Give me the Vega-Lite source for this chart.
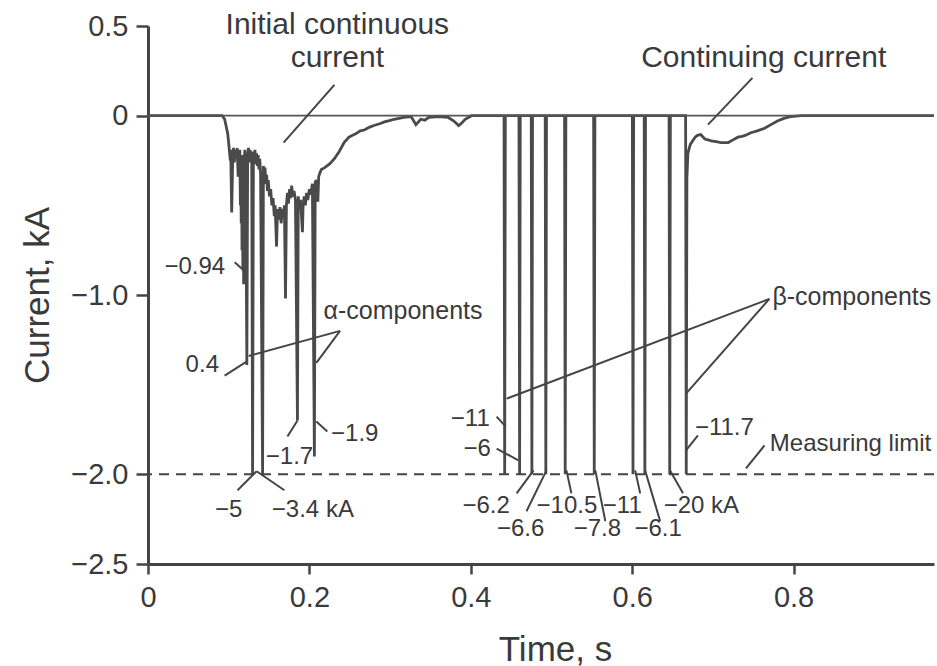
{
  "$schema": "https://vega.github.io/schema/vega-lite/v6.json",
  "width": 786,
  "height": 538,
  "autosize": {"type": "none"},
  "padding": {"left": 148, "top": 26, "right": 3, "bottom": 102},
  "background": "white",
  "config": {
    "view": {"stroke": null},
    "font": "Liberation Sans",
    "axis": {
      "grid": false,
      "domainColor": "#444444",
      "domainWidth": 3,
      "tickColor": "#444444",
      "tickWidth": 2.5,
      "labelFont": "Liberation Sans",
      "labelFontSize": 29,
      "labelColor": "#3a3a3a",
      "labelOverlap": false,
      "labelFlush": false,
      "titleFont": "Liberation Sans",
      "titleFontSize": 35,
      "titleFontWeight": "normal",
      "titleColor": "#3a3a3a"
    }
  },
  "datasets": {
    "levels": [
      {"I": 0, "kind": "zero"},
      {"I": -2, "kind": "limit"}
    ],
    "trace": [
      {"t": 0, "I": 0}, {"t": 0.092, "I": 0}, {"t": 0.095, "I": -0.02}, {"t": 0.0988, "I": -0.1},
      {"t": 0.101, "I": -0.2}, {"t": 0.102, "I": -0.25}, {"t": 0.1025, "I": -0.19}, {"t": 0.1037, "I": -0.54},
      {"t": 0.105, "I": -0.23}, {"t": 0.106, "I": -0.18}, {"t": 0.107, "I": -0.26}, {"t": 0.108, "I": -0.19},
      {"t": 0.109, "I": -0.24}, {"t": 0.1105, "I": -0.18}, {"t": 0.1117, "I": -0.34}, {"t": 0.1125, "I": -0.2},
      {"t": 0.1132, "I": -0.27}, {"t": 0.1138, "I": -0.19}, {"t": 0.1145, "I": -0.5}, {"t": 0.115, "I": -0.22},
      {"t": 0.1155, "I": -0.6}, {"t": 0.116, "I": -0.25}, {"t": 0.1165, "I": -0.75}, {"t": 0.117, "I": -0.22},
      {"t": 0.1175, "I": -0.85}, {"t": 0.118, "I": -0.3}, {"t": 0.1185, "I": -0.94}, {"t": 0.119, "I": -0.28},
      {"t": 0.12, "I": -0.19}, {"t": 0.121, "I": -0.26}, {"t": 0.1225, "I": -1.39}, {"t": 0.1235, "I": -0.22},
      {"t": 0.1245, "I": -0.18}, {"t": 0.1255, "I": -0.26}, {"t": 0.1265, "I": -0.19}, {"t": 0.1275, "I": -0.25},
      {"t": 0.1285, "I": -0.2}, {"t": 0.1296, "I": -2.0}, {"t": 0.1306, "I": -0.2}, {"t": 0.1315, "I": -0.26},
      {"t": 0.1325, "I": -0.19}, {"t": 0.1335, "I": -0.27}, {"t": 0.1345, "I": -0.21}, {"t": 0.1355, "I": -0.28},
      {"t": 0.1365, "I": -0.22}, {"t": 0.1375, "I": -0.3}, {"t": 0.1385, "I": -0.24}, {"t": 0.1395, "I": -0.32},
      {"t": 0.142, "I": -2.0}, {"t": 0.143, "I": -0.28}, {"t": 0.144, "I": -0.34}, {"t": 0.145, "I": -0.29},
      {"t": 0.146, "I": -0.38}, {"t": 0.147, "I": -0.33}, {"t": 0.148, "I": -0.42}, {"t": 0.149, "I": -0.36},
      {"t": 0.1505, "I": -0.45}, {"t": 0.152, "I": -0.41}, {"t": 0.1535, "I": -0.5}, {"t": 0.155, "I": -0.46},
      {"t": 0.1565, "I": -0.56}, {"t": 0.1575, "I": -0.5}, {"t": 0.1593, "I": -0.73}, {"t": 0.1605, "I": -0.52},
      {"t": 0.162, "I": -0.58}, {"t": 0.1635, "I": -0.51}, {"t": 0.165, "I": -0.6}, {"t": 0.1665, "I": -0.52},
      {"t": 0.168, "I": -0.57}, {"t": 0.169, "I": -0.5}, {"t": 0.1704, "I": -1.02}, {"t": 0.1715, "I": -0.5},
      {"t": 0.1728, "I": -0.43}, {"t": 0.174, "I": -0.49}, {"t": 0.1755, "I": -0.41}, {"t": 0.177, "I": -0.46},
      {"t": 0.178, "I": -0.39}, {"t": 0.1795, "I": -0.45}, {"t": 0.181, "I": -0.42}, {"t": 0.1827, "I": -0.47},
      {"t": 0.1852, "I": -1.7}, {"t": 0.1862, "I": -0.45}, {"t": 0.1875, "I": -0.52}, {"t": 0.189, "I": -0.47},
      {"t": 0.1914, "I": -0.65}, {"t": 0.1922, "I": -0.5}, {"t": 0.1935, "I": -0.45}, {"t": 0.195, "I": -0.5},
      {"t": 0.1965, "I": -0.43}, {"t": 0.198, "I": -0.47}, {"t": 0.2, "I": -0.41}, {"t": 0.2015, "I": -0.44},
      {"t": 0.2037, "I": -0.38}, {"t": 0.2062, "I": -1.9}, {"t": 0.2072, "I": -0.37}, {"t": 0.209, "I": -0.36},
      {"t": 0.2105, "I": -0.48}, {"t": 0.2115, "I": -0.34}, {"t": 0.213, "I": -0.32}, {"t": 0.2148, "I": -0.3},
      {"t": 0.219, "I": -0.29}, {"t": 0.2247, "I": -0.27}, {"t": 0.231, "I": -0.24},
      {"t": 0.237, "I": -0.2}, {"t": 0.243, "I": -0.15}, {"t": 0.249, "I": -0.12}, {"t": 0.253, "I": -0.11},
      {"t": 0.258, "I": -0.1}, {"t": 0.263, "I": -0.085}, {"t": 0.268, "I": -0.08}, {"t": 0.274, "I": -0.065},
      {"t": 0.28, "I": -0.055}, {"t": 0.287, "I": -0.045}, {"t": 0.293, "I": -0.035}, {"t": 0.299, "I": -0.028},
      {"t": 0.305, "I": -0.02}, {"t": 0.311, "I": -0.015}, {"t": 0.317, "I": -0.01}, {"t": 0.326, "I": -0.005},
      {"t": 0.332, "I": -0.05}, {"t": 0.338, "I": -0.02}, {"t": 0.343, "I": -0.025}, {"t": 0.348, "I": -0.01},
      {"t": 0.36, "I": -0.005}, {"t": 0.372, "I": -0.01}, {"t": 0.379, "I": -0.03}, {"t": 0.385, "I": -0.055},
      {"t": 0.389, "I": -0.04}, {"t": 0.393, "I": -0.02}, {"t": 0.401, "I": 0},
      {"t": 0.4412, "I": 0}, {"t": 0.442, "I": -2.0}, {"t": 0.4428, "I": 0},
      {"t": 0.4597, "I": 0}, {"t": 0.4605, "I": -2.0}, {"t": 0.4613, "I": 0},
      {"t": 0.4749, "I": 0}, {"t": 0.4757, "I": -2.0}, {"t": 0.4765, "I": 0},
      {"t": 0.4922, "I": 0}, {"t": 0.493, "I": -2.0}, {"t": 0.4938, "I": 0},
      {"t": 0.5162, "I": 0}, {"t": 0.517, "I": -2.0}, {"t": 0.5178, "I": 0},
      {"t": 0.5522, "I": 0}, {"t": 0.553, "I": -2.0}, {"t": 0.5538, "I": 0},
      {"t": 0.6002, "I": 0}, {"t": 0.601, "I": -2.0}, {"t": 0.6018, "I": 0},
      {"t": 0.6149, "I": 0}, {"t": 0.6157, "I": -2.0}, {"t": 0.6165, "I": 0},
      {"t": 0.6457, "I": 0}, {"t": 0.6465, "I": -2.0}, {"t": 0.6473, "I": 0},
      {"t": 0.6662, "I": 0}, {"t": 0.667, "I": -2.0}, {"t": 0.6678, "I": -0.35},
      {"t": 0.669, "I": -0.21}, {"t": 0.672, "I": -0.16}, {"t": 0.675, "I": -0.14}, {"t": 0.678, "I": -0.12},
      {"t": 0.681, "I": -0.11}, {"t": 0.685, "I": -0.105}, {"t": 0.69, "I": -0.13}, {"t": 0.694, "I": -0.135},
      {"t": 0.698, "I": -0.14}, {"t": 0.704, "I": -0.145}, {"t": 0.71, "I": -0.15}, {"t": 0.719, "I": -0.15},
      {"t": 0.725, "I": -0.135}, {"t": 0.731, "I": -0.12}, {"t": 0.736, "I": -0.115}, {"t": 0.74, "I": -0.11},
      {"t": 0.747, "I": -0.095}, {"t": 0.755, "I": -0.085}, {"t": 0.764, "I": -0.07}, {"t": 0.772, "I": -0.05},
      {"t": 0.78, "I": -0.03}, {"t": 0.788, "I": -0.015}, {"t": 0.796, "I": -0.005}, {"t": 0.81, "I": 0},
      {"t": 0.974, "I": 0}
    ],
    "pointers": [
      {"t1": 0.231, "i1": 0.172, "t2": 0.168, "i2": -0.15},
      {"t1": 0.749, "i1": 0.211, "t2": 0.694, "i2": -0.05},
      {"t1": 0.238, "i1": -1.2, "t2": 0.1247, "i2": -1.34},
      {"t1": 0.238, "i1": -1.2, "t2": 0.2086, "i2": -1.378},
      {"t1": 0.77, "i1": -1.022, "t2": 0.4444, "i2": -1.578},
      {"t1": 0.77, "i1": -1.022, "t2": 0.6667, "i2": -1.55},
      {"t1": 0.764, "i1": -1.839, "t2": 0.741, "i2": -1.967},
      {"t1": 0.1074, "i1": -0.817, "t2": 0.1198, "i2": -0.867},
      {"t1": 0.095, "i1": -1.45, "t2": 0.1222, "i2": -1.372},
      {"t1": 0.1728, "i1": -1.789, "t2": 0.1852, "i2": -1.7},
      {"t1": 0.2086, "i1": -1.706, "t2": 0.2222, "i2": -1.761},
      {"t1": 0.1346, "i1": -1.983, "t2": 0.111, "i2": -2.089},
      {"t1": 0.1346, "i1": -1.983, "t2": 0.169, "i2": -2.089},
      {"t1": 0.432, "i1": -1.678, "t2": 0.443, "i2": -1.733},
      {"t1": 0.432, "i1": -1.856, "t2": 0.459, "i2": -1.922},
      {"t1": 0.4778, "i1": -1.978, "t2": 0.4568, "i2": -2.106},
      {"t1": 0.4938, "i1": -1.978, "t2": 0.469, "i2": -2.206},
      {"t1": 0.5185, "i1": -1.978, "t2": 0.5247, "i2": -2.106},
      {"t1": 0.5543, "i1": -1.978, "t2": 0.5667, "i2": -2.261},
      {"t1": 0.6037, "i1": -1.978, "t2": 0.6099, "i2": -2.106},
      {"t1": 0.616, "i1": -1.978, "t2": 0.6346, "i2": -2.261},
      {"t1": 0.6469, "i1": -1.978, "t2": 0.663, "i2": -2.106},
      {"t1": 0.6667, "i1": -1.867, "t2": 0.6815, "i2": -1.783}
    ],
    "labels": [
      {"t": 0.2346, "I": 0.503, "text": "Initial continuous", "kind": "title"},
      {"t": 0.2346, "I": 0.322, "text": "current", "kind": "title"},
      {"t": 0.763, "I": 0.322, "text": "Continuing current", "kind": "title"},
      {"t": 0.316, "I": -1.092, "text": "α-components", "kind": "group"},
      {"t": 0.8722, "I": -1.011, "text": "β-components", "kind": "group"},
      {"t": 0.8706, "I": -1.83, "text": "Measuring limit", "kind": "value"},
      {"t": 0.058, "I": -0.844, "text": "−0.94", "kind": "value"},
      {"t": 0.0673, "I": -1.389, "text": "0.4", "kind": "value"},
      {"t": 0.1753, "I": -1.906, "text": "−1.7", "kind": "value"},
      {"t": 0.2562, "I": -1.775, "text": "−1.9", "kind": "value"},
      {"t": 0.1, "I": -2.197, "text": "−5", "kind": "value"},
      {"t": 0.2043, "I": -2.197, "text": "−3.4 kA", "kind": "value"},
      {"t": 0.3994, "I": -1.689, "text": "−11", "kind": "value"},
      {"t": 0.408, "I": -1.856, "text": "−6", "kind": "value"},
      {"t": 0.419, "I": -2.178, "text": "−6.2", "kind": "value"},
      {"t": 0.5191, "I": -2.178, "text": "−10.5", "kind": "value"},
      {"t": 0.5877, "I": -2.178, "text": "−11", "kind": "value"},
      {"t": 0.6858, "I": -2.178, "text": "−20 kA", "kind": "value"},
      {"t": 0.4617, "I": -2.306, "text": "−6.6", "kind": "value"},
      {"t": 0.5568, "I": -2.306, "text": "−7.8", "kind": "value"},
      {"t": 0.6321, "I": -2.306, "text": "−6.1", "kind": "value"},
      {"t": 0.7142, "I": -1.739, "text": "−11.7", "kind": "value"}
    ]
  },
  "layer": [
    {
      "data": {"name": "trace"},
      "mark": {"type": "line", "color": "#4a4a4a", "strokeWidth": 2.8, "strokeJoin": "miter", "strokeMiterLimit": 2},
      "encoding": {
        "x": {
          "field": "t", "type": "quantitative", "title": "Time, s",
          "scale": {"domain": [0, 0.974], "nice": false, "zero": false},
          "axis": {
            "values": [0, 0.2, 0.4, 0.6, 0.8],
            "labelExpr": "datum.value == 0 ? '0' : format(datum.value, '.1f')",
            "tickSize": 10,
            "labelPadding": 9,
            "titlePadding": 20,
            "titleX": 407
          }
        },
        "y": {
          "field": "I", "type": "quantitative", "title": "Current, kA",
          "scale": {"domain": [-2.5, 0.5], "nice": false, "zero": false},
          "axis": {
            "values": [0.5, 0, -1, -2, -2.5],
            "labelExpr": "datum.value == 0 ? '0' : format(datum.value, '.1f')",
            "tickSize": 12,
            "labelPadding": 8,
            "titlePadding": 15
          }
        }
      }
    },
    {
      "data": {"name": "levels"},
      "transform": [{"filter": "datum.kind == 'zero'"}],
      "mark": {"type": "rule", "color": "#555555", "strokeWidth": 1.6},
      "encoding": {"y": {"field": "I", "type": "quantitative", "title": "Current, kA"}}
    },
    {
      "data": {"name": "levels"},
      "transform": [{"filter": "datum.kind == 'limit'"}],
      "mark": {"type": "rule", "color": "#444444", "strokeWidth": 2, "strokeDash": [10, 7]},
      "encoding": {"y": {"field": "I", "type": "quantitative", "title": "Current, kA"}}
    },
    {
      "data": {"name": "pointers"},
      "mark": {"type": "rule", "color": "#444444", "strokeWidth": 2},
      "encoding": {
        "x": {"field": "t1", "type": "quantitative", "title": "Time, s"},
        "y": {"field": "i1", "type": "quantitative", "title": "Current, kA"},
        "x2": {"field": "t2"},
        "y2": {"field": "i2"}
      }
    },
    {
      "data": {"name": "labels"},
      "transform": [{"filter": "datum.kind == 'title'"}],
      "mark": {"type": "text", "font": "Liberation Sans", "fontSize": 30, "color": "#3a3a3a", "align": "center", "baseline": "middle"},
      "encoding": {
        "x": {"field": "t", "type": "quantitative", "title": "Time, s"},
        "y": {"field": "I", "type": "quantitative", "title": "Current, kA"},
        "text": {"field": "text"}
      }
    },
    {
      "data": {"name": "labels"},
      "transform": [{"filter": "datum.kind == 'group'"}],
      "mark": {"type": "text", "font": "Liberation Sans", "fontSize": 25, "color": "#3a3a3a", "align": "center", "baseline": "middle"},
      "encoding": {
        "x": {"field": "t", "type": "quantitative", "title": "Time, s"},
        "y": {"field": "I", "type": "quantitative", "title": "Current, kA"},
        "text": {"field": "text"}
      }
    },
    {
      "data": {"name": "labels"},
      "transform": [{"filter": "datum.kind == 'value'"}],
      "mark": {"type": "text", "font": "Liberation Sans", "fontSize": 24, "color": "#3a3a3a", "align": "center", "baseline": "middle"},
      "encoding": {
        "x": {"field": "t", "type": "quantitative", "title": "Time, s"},
        "y": {"field": "I", "type": "quantitative", "title": "Current, kA"},
        "text": {"field": "text"}
      }
    }
  ]
}
